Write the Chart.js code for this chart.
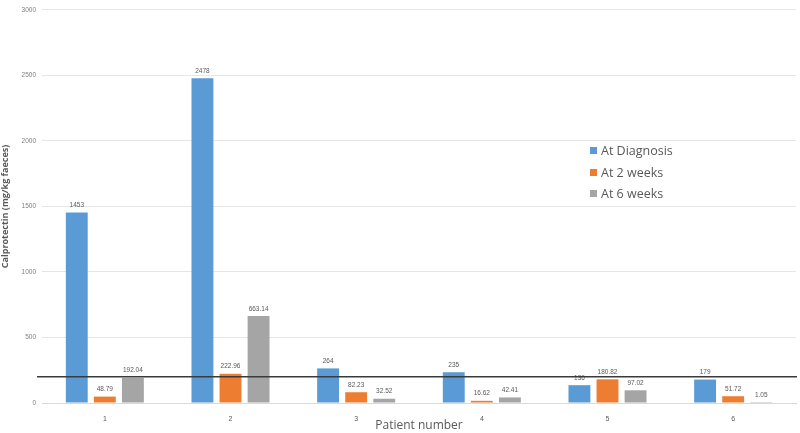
<!DOCTYPE html>
<html><head><meta charset="utf-8">
<script src="https://cdn.jsdelivr.net/npm/chart.js@4"></script>
<style>
html,body{margin:0;padding:0;background:#fff;}
#wrap{position:relative;width:800px;height:433px;}
#legend{position:absolute;left:590px;top:140px;font-family:"Open Sans","Liberation Sans",sans-serif;font-size:12.5px;color:#595959;line-height:21.5px;}
#legend span.sw{display:inline-block;width:7px;height:7px;margin-right:4px;vertical-align:1px;}
</style></head>
<body><div id="wrap"><canvas id="c" width="800" height="433"></canvas>
<div id="legend"></div></div>
<script>
const categories = ['1','2','3','4','5','6'];
const atDiagnosis = [1453, 2478, 264, 235, 136, 179];
const at2Weeks = [48.79, 222.96, 82.23, 16.62, 180.82, 51.72];
const at6Weeks = [192.04, 663.14, 32.52, 42.41, 97.02, 1.05];
const labelsDiagnosis = ['1453','2478','264','235','136','179'];
const labels2Weeks = ['48.79','222.96','82.23','16.62','180.82','51.72'];
const labels6Weeks = ['192.04','663.14','32.52','42.41','97.02','1.05'];
const threshold = 200;
const seriesNames = ['At Diagnosis','At 2 weeks','At 6 weeks'];
const colors = ['#5B9BD5','#ED7D31','#A5A5A5'];
const allLabels = [labelsDiagnosis, labels2Weeks, labels6Weeks];

const valueLabels = {
  id:'valueLabels',
  afterDatasetsDraw(chart){
    const ctx = chart.ctx;
    ctx.save();
    ctx.font = '6.5px "Liberation Sans", sans-serif';
    ctx.fillStyle = '#595959';
    ctx.textAlign = 'center';
    ctx.textBaseline = 'bottom';
    chart.data.datasets.forEach((ds, i) => {
      chart.getDatasetMeta(i).data.forEach((bar, j) => {
        ctx.fillText(allLabels[i][j], bar.x, bar.y - 4);
      });
    });
    ctx.restore();
  }
};
const thresholdLine = {
  id:'thresholdLine',
  afterDatasetsDraw(chart){
    const y = chart.scales.y.getPixelForValue(threshold);
    const ctx = chart.ctx;
    ctx.save();
    ctx.strokeStyle = '#3a3a3a';
    ctx.lineWidth = 1.6;
    ctx.beginPath();
    ctx.moveTo(37, y);
    ctx.lineTo(797, y);
    ctx.stroke();
    ctx.restore();
  }
};

new Chart(document.getElementById('c'), {
  type:'bar',
  data:{
    labels: categories,
    datasets:[
      {label:seriesNames[0], data:atDiagnosis, backgroundColor:colors[0]},
      {label:seriesNames[1], data:at2Weeks, backgroundColor:colors[1]},
      {label:seriesNames[2], data:at6Weeks, backgroundColor:colors[2]}
    ]
  },
  options:{
    responsive:false,
    animation:false,
    layout:{padding:{left:0,right:4,top:6,bottom:0}},
    datasets:{bar:{categoryPercentage:0.67, barPercentage:0.78}},
    plugins:{legend:{display:false}, tooltip:{enabled:false}},
    scales:{
      x:{
        grid:{display:false},
        border:{display:true,color:'#d9d9d9'},
        ticks:{font:{size:7,family:'"Liberation Sans", sans-serif'},color:'#595959',padding:4},
        title:{display:true,text:'Patient number',font:{size:12,family:'"Open Sans", sans-serif'},color:'#595959',padding:{top:0,bottom:0}},
        afterFit(s){ s.height = 30; }
      },
      y:{
        min:0,max:3000,
        ticks:{stepSize:500,font:{size:6.5,family:'"Liberation Sans", sans-serif'},color:'#7f7f7f',padding:6,callback:(v)=>String(v)},
        grid:{color:'#e6e6e6',drawTicks:false},
        border:{display:false},
        title:{display:true,text:'Calprotectin (mg/kg faeces)',font:{size:9,weight:'bold',family:'"Open Sans", sans-serif'},color:'#595959',padding:{top:0,bottom:2}},
        afterFit(s){ s.width = 42; }
      }
    }
  },
  plugins:[valueLabels, thresholdLine]
});

const lg = document.getElementById('legend');
seriesNames.forEach((n,i)=>{
  const d = document.createElement('div');
  const sw = document.createElement('span'); sw.className='sw'; sw.style.background=colors[i];
  d.appendChild(sw); d.appendChild(document.createTextNode(n));
  lg.appendChild(d);
});
</script></body></html>
